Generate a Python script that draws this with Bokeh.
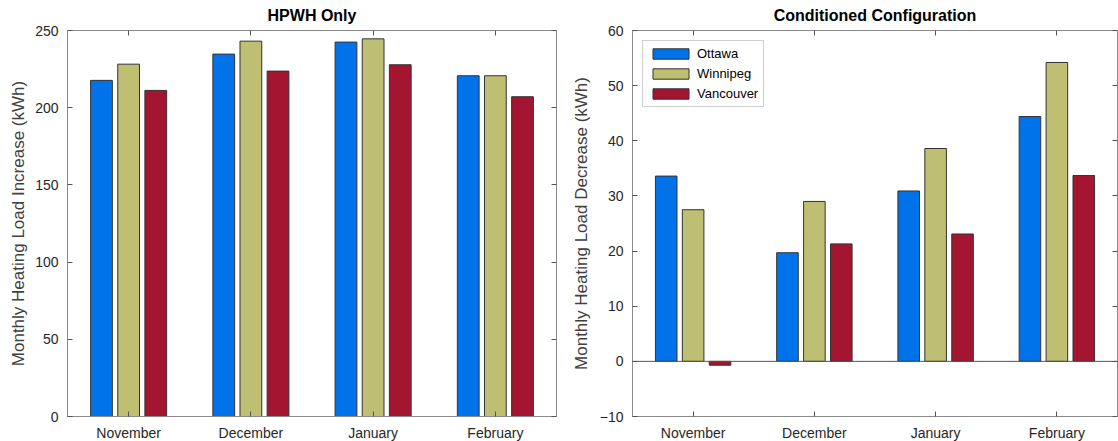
from bokeh.plotting import figure
from bokeh.layouts import row
from bokeh.models import Range1d, FactorRange, SingleIntervalTicker, Span, CategoricalAxis, LinearAxis, ColumnDataSource, Legend
from bokeh.transform import dodge
from bokeh.embed import file_html
from bokeh.resources import INLINE

months = ["November", "December", "January", "February"]
cities = ["Ottawa", "Winnipeg", "Vancouver"]

hpwh_ottawa = [217.7, 234.7, 242.5, 220.7]
hpwh_winnipeg = [228.2, 243.1, 244.6, 220.7]
hpwh_vancouver = [211.2, 223.7, 227.8, 207.1]

cond_ottawa = [33.6, 19.7, 30.9, 44.4]
cond_winnipeg = [27.5, 29.0, 38.6, 54.2]
cond_vancouver = [-0.7, 21.3, 23.1, 33.7]

colors = ["#0072EA", "#BFBF73", "#A31530"]
FONT = "Liberation Sans"
offsets = [-0.222, 0.0, 0.222]
BAR_W = 0.178


def make_fig(title, ylabel, series, yrange, interval, bl, br, fw, label_standoff, show_legend):
    src = ColumnDataSource(dict(month=months, s0=series[0], s1=series[1], s2=series[2]))
    p = figure(x_range=FactorRange(factors=months), y_range=Range1d(*yrange),
               frame_width=fw, frame_height=386, output_backend="svg",
               toolbar_location=None, min_border_left=bl, min_border_right=br,
               min_border_top=30, min_border_bottom=25, background_fill_color="white",
               border_fill_color="white")
    p.title.text = title
    p.title.align = "center"
    p.title.vertical_align = "top"
    p.title.text_font = FONT
    p.title.text_font_size = "16px"
    p.title.text_font_style = "bold"
    p.title.text_color = "#000000"
    p.title.standoff = 9
    p.xgrid.visible = False
    p.ygrid.visible = False
    p.outline_line_color = "#8a8a8a"
    p.outline_line_width = 1

    renderers = []
    for i, key in enumerate(["s0", "s1", "s2"]):
        r = p.vbar(x=dodge("month", offsets[i], range=p.x_range), top=key, bottom=0,
                   width=BAR_W, source=src, fill_color=colors[i],
                   line_color="#333333", line_width=1)
        renderers.append(r)

    if yrange[0] < 0:
        p.add_layout(Span(location=0, dimension="width", line_color="#555555", line_width=1))

    xa = p.xaxis[0]
    xa.major_label_text_font = FONT
    xa.major_label_text_font_size = "14px"
    xa.major_label_text_color = "#262626"
    xa.major_label_standoff = 8
    xa.major_tick_in = 5
    xa.major_tick_out = 0
    xa.axis_line_color = "#8a8a8a"
    xa.major_tick_line_color = "#555555"

    ya = p.yaxis[0]
    ya.ticker = SingleIntervalTicker(interval=interval)
    ya.axis_label = ylabel
    ya.axis_label_text_font = FONT
    ya.axis_label_text_font_size = "17px"
    ya.axis_label_text_font_style = "normal"
    ya.axis_label_text_color = "#404040"
    ya.axis_label_standoff = label_standoff
    ya.major_label_text_font = FONT
    ya.major_label_text_font_size = "14px"
    ya.major_label_text_color = "#262626"
    ya.major_label_standoff = 5
    ya.major_tick_in = 5
    ya.major_tick_out = 0
    ya.minor_tick_line_color = None
    ya.axis_line_color = "#8a8a8a"
    ya.major_tick_line_color = "#555555"

    top = CategoricalAxis(major_label_text_color=None, major_label_text_font_size="1px",
                          major_label_standoff=0, major_tick_in=5, major_tick_out=0,
                          axis_line_color=None, major_tick_line_color="#555555")
    p.add_layout(top, "above")
    right = LinearAxis(ticker=SingleIntervalTicker(interval=interval),
                       major_label_text_color=None, major_label_text_font_size="1px",
                       major_label_standoff=0, major_tick_in=5, major_tick_out=0,
                       minor_tick_line_color=None, axis_line_color=None,
                       major_tick_line_color="#555555")
    p.add_layout(right, "right")

    if show_legend:
        legend = Legend(items=[(c, [r]) for c, r in zip(cities, renderers)],
                        location="top_left", margin=10, padding=5, spacing=5,
                        glyph_width=45, glyph_height=13, label_height=13,
                        label_standoff=4, label_text_font=FONT,
                        label_text_font_size="13px", label_text_color="#000000",
                        border_line_color="#a0a0a0", border_line_width=1,
                        background_fill_color="white", background_fill_alpha=1)
        p.add_layout(legend, "center")
    return p


p1 = make_fig("HPWH Only", "Monthly Heating Load Increase (kWh)",
              [hpwh_ottawa, hpwh_winnipeg, hpwh_vancouver], (0, 250), 50, 67, 11, 489, 4, False)
p2 = make_fig("Conditioned Configuration", "Monthly Heating Load Decrease (kWh)",
              [cond_ottawa, cond_winnipeg, cond_vancouver], (-10, 60), 10, 65, 1, 485, 6, True)

layout = row(p1, p2)
open("out.html", "w").write(file_html(layout, INLINE))
